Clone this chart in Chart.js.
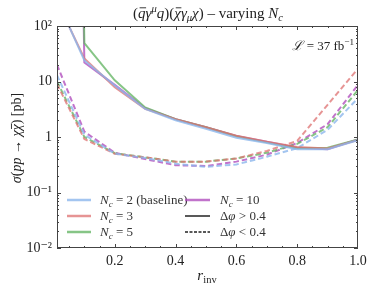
<!DOCTYPE html>
<html>
<head>
<meta charset="utf-8">
<script src="https://cdn.jsdelivr.net/npm/chart.js@4"></script>
<style>
  html, body { margin: 0; padding: 0; background: #fff; }
  #wrap { width: 374px; height: 291px; position: relative; }
</style>
</head>
<body>
<div id="wrap"><canvas id="chart-nc"></canvas></div>
<script>
/* ── Daten ── */
const rInv = [0.01, 0.1, 0.2, 0.3, 0.4, 0.5, 0.6, 0.7, 0.8, 0.9, 1.0];

// Δφ > 0.4 (durchgezogen)
const nc2Solid  = [300, 24, 8.5, 3.2, 2.0, 1.4, 0.97, 0.78, 0.6, 0.6, 0.88];
const nc3Solid  = [280, 26, 7.9, 3.2, 2.1, 1.5, 1.05, 0.82, 0.66, 0.62, 0.88];
const nc5Solid  = [1e30, 49, 10.5, 3.4, 2.1, 1.5, 1.03, 0.8, 0.63, 0.64, 0.9];
const nc10Solid = [1e30, 22, 8.7, 3.3, 2.1, 1.5, 1.04, 0.82, 0.64, 0.6, 0.9];

// Δφ < 0.4 (gestrichelt)
const nc2Dash  = [13, 1.1, 0.5, 0.42, 0.33, 0.29, 0.32, 0.44, 0.63, 1.35, 5.0];
const nc3Dash  = [9, 0.92, 0.5, 0.43, 0.36, 0.36, 0.41, 0.56, 0.85, 3.8, 17];
const nc5Dash  = [10, 1.0, 0.51, 0.43, 0.36, 0.36, 0.41, 0.52, 0.75, 1.5, 7.0];
const nc10Dash = [20, 1.25, 0.52, 0.4, 0.31, 0.3, 0.36, 0.48, 0.78, 1.7, 8.7];

const xTickValues = [0.2, 0.4, 0.6, 0.8, 1.0];
const yTickValues = [0.01, 0.1, 1, 10, 100];
const yTickLabels = ['10⁻²', '10⁻¹', '1', '10', '10²'];

const COLORS = {
  nc2:  'rgba(140, 182, 236, 0.8)',
  nc3:  'rgba(222, 112, 112, 0.75)',
  nc5:  'rgba(104, 182, 104, 0.8)',
  nc10: 'rgba(178, 80, 190, 0.8)'
};

const SERIF = "'Liberation Serif', 'DejaVu Serif', serif";

/* ── Hilfsfunktion: Text mit Hoch-/Tiefstellung ── */
function drawRich(ctx, parts, x, y, size, align) {
  const fontFor = p => `${p.it ? 'italic ' : ''}${(p.sup || p.sub) ? size * 0.7 : size}px ${SERIF}`;
  const widths = parts.map(p => { ctx.font = fontFor(p); return ctx.measureText(p.t).width; });
  const total = widths.reduce((a, b) => a + b, 0);
  let cx = align === 'center' ? x - total / 2 : align === 'right' ? x - total : x;
  ctx.textAlign = 'left';
  ctx.textBaseline = 'alphabetic';
  parts.forEach((p, i) => {
    ctx.font = fontFor(p);
    const dy = p.sup ? -size * 0.4 : p.sub ? size * 0.22 : 0;
    ctx.fillText(p.t, cx, y + dy);
    if (p.bar) {
      ctx.save();
      ctx.lineWidth = 0.9;
      ctx.strokeStyle = ctx.fillStyle;
      ctx.beginPath();
      ctx.moveTo(cx + 1.5, y - size * 0.68);
      ctx.lineTo(cx + widths[i] + 0.5, y - size * 0.68);
      ctx.stroke();
      ctx.restore();
    }
    cx += widths[i];
  });
}

function series(label, data, color, dashed) {
  return {
    label,
    data: rInv.map((r, i) => ({ x: r, y: data[i] })),
    borderColor: color,
    backgroundColor: color,
    borderWidth: 2,
    borderDash: dashed ? [5.5, 3] : [],
    pointRadius: 0,
    tension: 0,
    fill: false
  };
}

/* ── Rahmen, Ticks nach innen, Texte ── */
const framePlugin = {
  id: 'frame',
  afterDraw(chart) {
    const { ctx, chartArea: { left, right, top, bottom }, scales: { x, y } } = chart;
    ctx.save();
    ctx.strokeStyle = '#444';
    ctx.lineWidth = 1;
    ctx.strokeRect(left + 0.5, top + 0.5, right - left - 1, bottom - top - 1);

    ctx.beginPath();
    // x Ticks
    for (let v = 0.05; v <= 1.0001; v += 0.05) {
      const px = Math.round(x.getPixelForValue(v)) + 0.5;
      if (px < left || px > right) continue;
      const major = Math.abs(v * 5 - Math.round(v * 5)) < 1e-6;
      const len = major ? 4 : 2;
      ctx.moveTo(px, bottom); ctx.lineTo(px, bottom - len);
      ctx.moveTo(px, top); ctx.lineTo(px, top + len);
    }
    // y Ticks (log)
    for (let e = -2; e <= 1; e++) {
      for (let m = 1; m <= 9; m++) {
        const v = m * Math.pow(10, e);
        const py = Math.round(y.getPixelForValue(v)) + 0.5;
        const len = m === 1 ? 4 : 2;
        ctx.moveTo(left, py); ctx.lineTo(left + len, py);
        ctx.moveTo(right, py); ctx.lineTo(right - len, py);
      }
    }
    ctx.stroke();

    ctx.fillStyle = '#222';
    // Titel
    drawRich(ctx, [
      { t: '(' }, { t: 'q', it: true, bar: true }, { t: 'γ', it: true }, { t: 'μ', it: true, sup: true },
      { t: 'q', it: true }, { t: ')(' }, { t: 'χ', it: true, bar: true }, { t: 'γ', it: true },
      { t: 'μ', it: true, sub: true }, { t: 'χ', it: true }, { t: ') – varying ' },
      { t: 'N', it: true }, { t: 'c', it: true, sub: true }
    ], 208, 18, 15, 'center');

    // Luminosität
    drawRich(ctx, [{ t: 'ℒ', it: true }, { t: ' = 37 fb' }, { t: '−1', sup: true }], 354, 50, 13, 'right');

    // x Achsentitel
    drawRich(ctx, [{ t: 'r', it: true }, { t: 'inv', sub: true }], 207, 280, 15, 'center');

    // y Achsentitel
    ctx.save();
    ctx.translate(21, 138);
    ctx.rotate(-Math.PI / 2);
    drawRich(ctx, [
      { t: 'σ', it: true }, { t: '(' }, { t: 'pp', it: true }, { t: ' → ' },
      { t: 'χ', it: true }, { t: 'χ', it: true, bar: true }, { t: ') [pb]' }
    ], 0, 0, 14, 'center');
    ctx.restore();

    // Legende
    const rows = [200, 216, 232];
    const legendItems = [
      { col: 0, row: 0, color: COLORS.nc2, dash: [], text: [{ t: 'N', it: true }, { t: 'c', it: true, sub: true }, { t: ' = 2 (baseline)' }] },
      { col: 0, row: 1, color: COLORS.nc3, dash: [], text: [{ t: 'N', it: true }, { t: 'c', it: true, sub: true }, { t: ' = 3' }] },
      { col: 0, row: 2, color: COLORS.nc5, dash: [], text: [{ t: 'N', it: true }, { t: 'c', it: true, sub: true }, { t: ' = 5' }] },
      { col: 1, row: 0, color: COLORS.nc10, dash: [], text: [{ t: 'N', it: true }, { t: 'c', it: true, sub: true }, { t: ' = 10' }] },
      { col: 1, row: 1, color: '#222', dash: [], thin: true, text: [{ t: 'Δ' }, { t: 'φ', it: true }, { t: ' > 0.4' }] },
      { col: 1, row: 2, color: '#222', dash: [3, 1.5], thin: true, text: [{ t: 'Δ' }, { t: 'φ', it: true }, { t: ' < 0.4' }] }
    ];
    const colX = [[67, 91, 100], [185, 210, 220]];
    legendItems.forEach(item => {
      const [x0, x1, tx] = colX[item.col];
      const yy = rows[item.row];
      ctx.save();
      ctx.strokeStyle = item.color;
      ctx.lineWidth = item.thin ? 1.5 : 2.5;
      ctx.setLineDash(item.dash);
      ctx.beginPath();
      ctx.moveTo(x0, yy); ctx.lineTo(x1, yy);
      ctx.stroke();
      ctx.restore();
      ctx.fillStyle = '#333';
      drawRich(ctx, item.text, tx, yy + 4, 13, 'left');
    });
    ctx.restore();
  }
};

new Chart(document.getElementById('chart-nc'), {
  type: 'line',
  data: {
    datasets: [
      series('Nc = 2 (baseline)', nc2Solid, COLORS.nc2, false),
      series('Nc = 3', nc3Solid, COLORS.nc3, false),
      series('Nc = 5', nc5Solid, COLORS.nc5, false),
      series('Nc = 10', nc10Solid, COLORS.nc10, false),
      series('Nc = 2 (baseline) Δφ<0.4', nc2Dash, COLORS.nc2, true),
      series('Nc = 3 Δφ<0.4', nc3Dash, COLORS.nc3, true),
      series('Nc = 5 Δφ<0.4', nc5Dash, COLORS.nc5, true),
      series('Nc = 10 Δφ<0.4', nc10Dash, COLORS.nc10, true)
    ]
  },
  options: {
    responsive: true,
    maintainAspectRatio: false,
    animation: false,
    layout: { padding: { top: 26, right: 16, left: 0, bottom: 0 } },
    plugins: {
      legend: { display: false },
      tooltip: { enabled: false },
      title: { display: false }
    },
    scales: {
      x: {
        type: 'linear',
        min: 0.01,
        max: 1.0,
        grid: { display: false, drawTicks: false },
        border: { display: false },
        afterBuildTicks: s => { s.ticks = xTickValues.map(v => ({ value: v })); },
        afterFit: s => { s.height = 43; },
        ticks: {
          padding: 5,
          color: '#222',
          font: { family: SERIF, size: 14 },
          maxRotation: 0,
          callback: v => v.toFixed(1)
        }
      },
      y: {
        type: 'logarithmic',
        min: 0.01,
        max: 100,
        grid: { display: false, drawTicks: false },
        border: { display: false },
        afterBuildTicks: s => { s.ticks = yTickValues.map(v => ({ value: v })); },
        afterFit: s => { s.width = 57; },
        ticks: {
          padding: 5,
          color: '#222',
          font: { family: SERIF, size: 14 },
          callback: v => yTickLabels[yTickValues.findIndex(t => Math.abs(t - v) / t < 1e-6)]
        }
      }
    }
  },
  plugins: [framePlugin]
});
</script>
</body>
</html>
